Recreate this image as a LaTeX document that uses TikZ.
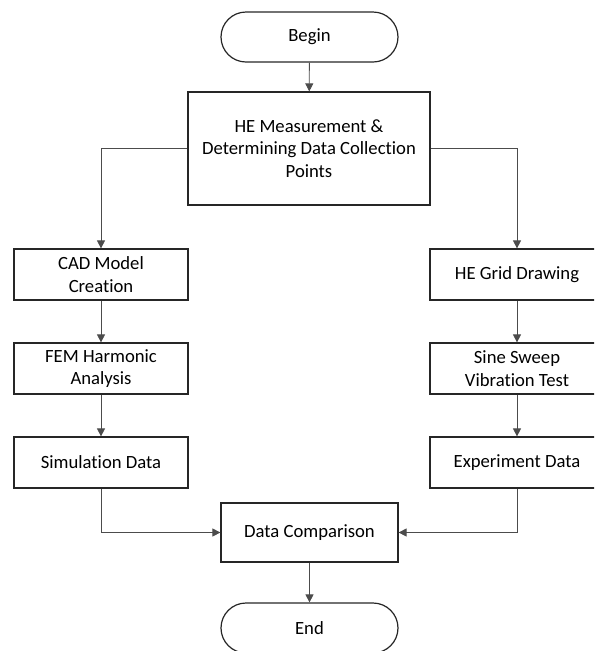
\documentclass[tikz,border=0pt]{standalone}
\usepackage{fontspec}
\setmainfont[Ligatures=NoCommon]{Carlito}
\usetikzlibrary{arrows.meta}

\begin{document}
\begin{tikzpicture}[x=0.75pt,y=-0.75pt,
        every node/.style={font=\fontsize{14}{17}\selectfont, align=center},
        box/.style={draw=black!85, line width=0.9pt, inner sep=0pt},
        stepbox/.style={box, minimum width=174*0.75pt, minimum height=51*0.75pt},
        terminal/.style={box, rounded corners=18.75pt, minimum width=177*0.75pt, minimum height=50*0.75pt},
        flow/.style={draw=black!70, line width=0.6pt, -{Triangle[length=6pt,width=6pt]}}]
        \useasboundingbox (0,0) rectangle (594,651);
        \clip (0,0) rectangle (594,651);

        \node[terminal] (begin) at (309.5,37) {Begin};
        \node[box, minimum width=242*0.75pt, minimum height=113*0.75pt] (measure) at (309,148.5)
            {HE Measurement \&\\ Determining Data Collection\\ Points};
        \node[stepbox] (cad) at (101,274.5) {CAD Model\\ Creation};
        \node[stepbox] (fem) at (101,368.5) {FEM Harmonic\\ Analysis};
        \node[stepbox] (sim) at (101,462.5) {Simulation Data};
        \node[stepbox] (grid) at (517,274.5) {HE Grid Drawing};
        \node[stepbox] (sweep) at (517,368.5) {Sine Sweep\\ Vibration Test};
        \node[stepbox] (exper) at (517,462.5) {Experiment Data};
        \node[box, minimum width=177*0.75pt, minimum height=59*0.75pt] (compare) at (309.5,532.5) {Data Comparison};
        \node[terminal] (end) at (309.5,628) {End};

        \draw[flow] (begin) -- (measure);
        \draw[flow] (measure.west) -| (cad);
        \draw[flow] (measure.east) -| (grid);
        \draw[flow] (cad) -- (fem);
        \draw[flow] (fem) -- (sim);
        \draw[flow] (grid) -- (sweep);
        \draw[flow] (sweep) -- (exper);
        \draw[flow] (sim) |- (compare);
        \draw[flow] (exper) |- (compare);
        \draw[flow] (compare) -- (end);
    \end{tikzpicture}
\end{document}
